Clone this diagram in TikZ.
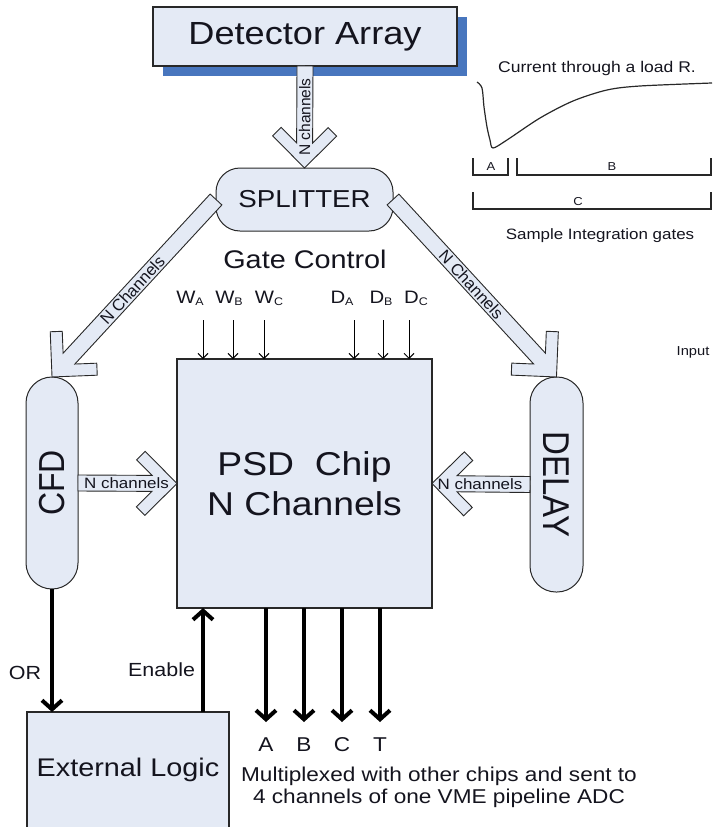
\documentclass[tikz,border=0pt]{standalone}
\usepackage{fontspec}
\setmainfont{Liberation Sans}
\usepackage{graphicx}
\usetikzlibrary{arrows.meta,calc,shadows}
\definecolor{bfill}{RGB}{228,234,245}
\definecolor{shblue}{RGB}{72,118,190}
\definecolor{edge}{RGB}{40,40,40}
\definecolor{ink}{RGB}{20,20,30}
\newcommand\ws[1]{\scalebox{1.13}[1]{#1}}
\newcommand\fs[1]{\fontsize{#1}{#1}\selectfont}
\newcommand\hollowarrow[2]{%
  \filldraw[hollowstyle] let \p1=(#1), \p2=(#2), \n1={atan2(\y2-\y1,\x2-\x1)}, \n2={veclen(\x2-\x1,\y2-\y1)} in
   ({\x1-8*sin(\n1)},{\y1+8*cos(\n1)})
   -- ({\x1+(\n2-25)*cos(\n1)-8*sin(\n1)},{\y1+(\n2-25)*sin(\n1)+8*cos(\n1)})
   -- ({\x1+(\n2-40.5)*cos(\n1)-23.5*sin(\n1)},{\y1+(\n2-40.5)*sin(\n1)+23.5*cos(\n1)})
   -- ({\x1+(\n2-32)*cos(\n1)-32*sin(\n1)},{\y1+(\n2-32)*sin(\n1)+32*cos(\n1)})
   -- ({\x1+\n2*cos(\n1)},{\y1+\n2*sin(\n1)})
   -- ({\x1+(\n2-32)*cos(\n1)+32*sin(\n1)},{\y1+(\n2-32)*sin(\n1)-32*cos(\n1)})
   -- ({\x1+(\n2-40.5)*cos(\n1)+23.5*sin(\n1)},{\y1+(\n2-40.5)*sin(\n1)-23.5*cos(\n1)})
   -- ({\x1+(\n2-25)*cos(\n1)+8*sin(\n1)},{\y1+(\n2-25)*sin(\n1)-8*cos(\n1)})
   -- ({\x1+8*sin(\n1)},{\y1-8*cos(\n1)}) -- cycle;}
\begin{document}
\begin{tikzpicture}[x=1pt,y=-1pt,
  every node/.style={inner sep=0pt, outer sep=0pt, text=ink},
  boxstyle/.style={draw=edge, fill=bfill, line width=1.3pt},
  pillstyle/.style={draw=edge, fill=bfill, line width=1pt},
  hollowstyle/.style={draw=edge, fill=bfill, line width=0.9pt, line join=miter},
  thickarrow/.style={draw=black, line width=4pt, -{Straight Barb[length=9pt,width=20pt]}},
  thinarrow/.style={draw=black, line width=1pt, -{Straight Barb[length=5pt,width=10pt]}},
  chanlabel/.style={font=\fs{15}},
  brk/.style={draw=edge, line width=1.2pt}
]
\useasboundingbox (0,0) rectangle (712,827);

% main blocks
\node[boxstyle, line width=2pt, minimum width=304pt, minimum height=59pt,
  drop shadow={shadow xshift=10pt, shadow yshift=-10pt, fill=shblue, opacity=1},
  font=\fs{32}] (det) at (305,36.5) {\ws{Detector Array}};
\node[pillstyle, rounded corners=24pt, minimum width=177pt, minimum height=63pt,
  font=\fs{24.5}] (spl) at (304.5,199.5) {\ws{SPLITTER}};
\node[pillstyle, rounded corners=26pt, minimum width=52pt, minimum height=212pt] (cfd) at (52,483) {};
\node[rotate=90, font=\fs{32}] (cfdt) at (cfd.center) {\scalebox{1}[1.13]{CFD}};
\node[pillstyle, rounded corners=26pt, minimum width=53pt, minimum height=215pt] (delay) at (556.5,484.5) {};
\node[rotate=-90, font=\fs{33}] (delayt) at (delay.center) {\scalebox{1}[1.13]{DELAY}};
\node[boxstyle, line width=1.5pt, minimum width=255pt, minimum height=249pt, align=center,
  font=\fontsize{33}{40}\selectfont] (psd) at (304.5,483.5) {\ws{PSD\ \ Chip}\\\ws{N Channels}};
\node[boxstyle, minimum width=202pt, minimum height=116pt, font=\fs{25.5}] (ext) at (128,770) {\ws{External Logic}};

% hollow arrows
\hollowarrow{det.south}{spl.north}
\hollowarrow{spl.west}{cfd.north}
\hollowarrow{spl.east}{delay.north}
\hollowarrow{cfd.east}{psd.west}
\hollowarrow{delay.west}{psd.east}

\path (spl.north) -- (det.south) node[midway, sloped, font=\fs{15.5}] (lv) {N channels};
\path (cfd.north) -- (spl.west) node[pos=0.49, sloped, font=\fs{16.5}] (ll) {N Channels};
\path (spl.east) -- (delay.north) node[pos=0.48, sloped, font=\fs{16.5}] (lr) {N Channels};
\path (cfd.east) -- (psd.west) node[pos=0.49, chanlabel] (lh1) {\ws{N channels}};
\path (delay.west) -- (psd.east) node[pos=0.51, chanlabel] (lh2) {\ws{N channels}};

% gate control
\node[font=\fs{25.5}] (gc) at (305,259.5) {\ws{Gate Control}};
\node[font=\fs{18}, anchor=base] (wa) at (190,303) {\ws{W\raisebox{-2pt}{\fs{11}A}}};
\node[font=\fs{18}, anchor=base] (wb) at (229,303) {\ws{W\raisebox{-2pt}{\fs{11}B}}};
\node[font=\fs{18}, anchor=base] (wc) at (269,303) {\ws{W\raisebox{-2pt}{\fs{11}C}}};
\node[font=\fs{18}, anchor=base] (da) at (342,303) {\ws{D\raisebox{-2pt}{\fs{11}A}}};
\node[font=\fs{18}, anchor=base] (db) at (381,303) {\ws{D\raisebox{-2pt}{\fs{11}B}}};
\node[font=\fs{18}, anchor=base] (dc) at (416,303) {\ws{D\raisebox{-2pt}{\fs{11}C}}};
\coordinate (g1) at (203,320);
\coordinate (g2) at (233,320);
\coordinate (g3) at (264,320);
\coordinate (g4) at (354,320);
\coordinate (g5) at (383,320);
\coordinate (g6) at (409,320);
\foreach \g in {g1,g2,g3,g4,g5,g6}{\draw[thinarrow] (\g) -- (\g |- psd.north);}

% outputs
\coordinate (oa) at (266,722);
\coordinate (ob) at (304,722);
\coordinate (oc) at (342,722);
\coordinate (ot) at (380,722);
\foreach \o in {oa,ob,oc,ot}{\draw[thickarrow] (\o |- psd.south) -- (\o);}
\node[font=\fs{20}] (la) at (266,745) {\ws{A}};
\node[font=\fs{20}] (lb) at (304,745) {\ws{B}};
\node[font=\fs{20}] (lc) at (342,745) {\ws{C}};
\node[font=\fs{20}] (lt) at (380,745) {\ws{T}};
\node[align=center, font=\fontsize{20}{22}\selectfont] (mux) at (439,787.5)
  {\ws{Multiplexed with other chips and sent to}\\\ws{4 channels of one VME pipeline ADC}};

% OR / Enable
\coordinate (enb) at (203,0);
\draw[thickarrow] (cfd.south) -- (cfd.south |- ext.north);
\draw[thickarrow] (enb |- ext.north) -- (enb |- psd.south);
\node[font=\fs{19}] (orl) at (25,672.5) {\ws{OR}};
\node[font=\fs{19}, anchor=east] (enl) at (195,669.5) {\ws{Enable}};

% waveform inset
\node[font=\fs{15.5}, anchor=base] (cur) at (597,72) {\ws{Current through a load R.}};
\draw[draw=edge, line width=1.2pt] plot[smooth, tension=0.5] coordinates
  {(477,82) (482,88) (484,107) (487,127) (490,140) (493,148) (507,140) (540,118) (573,101) (607,90) (640,86) (712,83)};
\draw[brk] (473,158) -- (473,175) -- (508,175) -- (508,158);
\draw[brk] (517,158) -- (517,175) -- (711,175) -- (711,158);
\draw[brk] (473,192) -- (473,209) -- (711,209) -- (711,192);
\node[font=\fs{11.5}, anchor=base] (ga) at (491,170) {\ws{A}};
\node[font=\fs{11.5}, anchor=base] (gb) at (612,170) {\ws{B}};
\node[font=\fs{11.5}, anchor=base] (gcc) at (578,205) {\ws{C}};
\node[font=\fs{15}, anchor=base] (sig) at (600,239) {\ws{Sample Integration gates}};
\node[font=\fs{13}, anchor=base] (inp) at (693,355) {\ws{Input}};
\end{tikzpicture}
\end{document}
